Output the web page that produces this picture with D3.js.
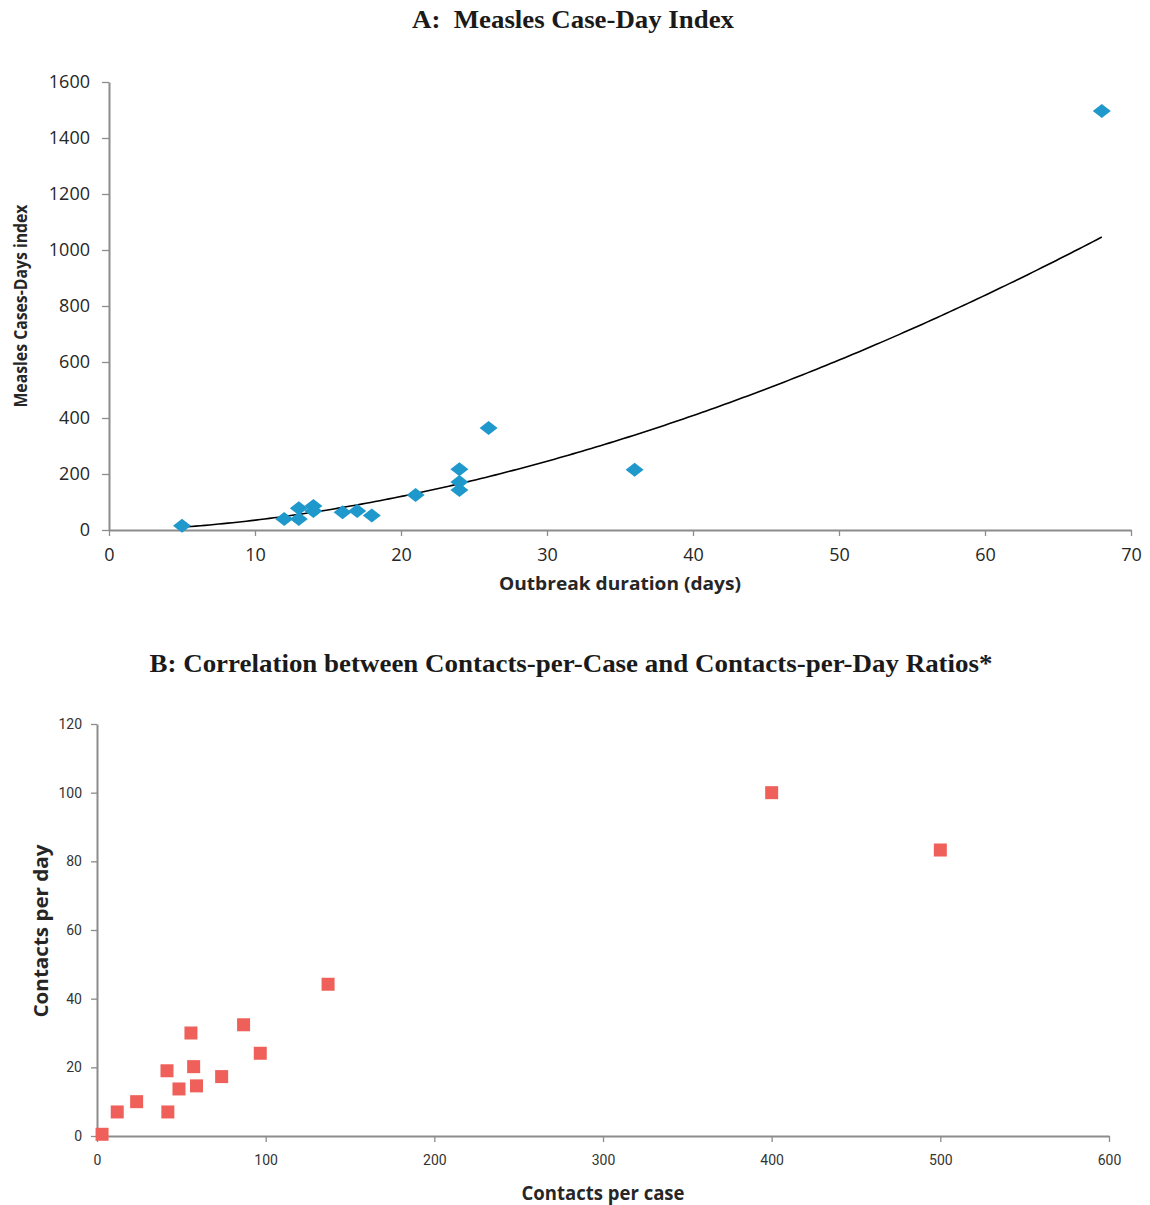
<!DOCTYPE html>
<html>
<head>
<meta charset="utf-8">
<script src="https://cdn.jsdelivr.net/npm/d3@7"></script>
<style>
  html, body { margin: 0; padding: 0; background: #fff; }
  svg { display: block; }
</style>
</head>
<body>
<svg id="chart" width="1150" height="1205"></svg>
<script>
// ---- Panel A data: outbreak duration (days) vs measles case-days index ----
const durationDays = [5, 12, 13, 13, 14, 14, 16, 17, 18, 21, 24, 24, 24, 26, 36, 68];
const caseDayIndex = [15, 39, 78, 39, 86, 68, 63, 68, 52, 125, 217, 171, 143, 364, 215, 1496];
const aXTicks = [0, 10, 20, 30, 40, 50, 60, 70];
const aYTicks = [0, 200, 400, 600, 800, 1000, 1200, 1400, 1600];

// ---- Panel B data: contacts per case vs contacts per day ----
const contactsPerCase = [3, 12, 23.5, 41.5, 42, 48.6, 55.7, 57.3, 59, 73.9, 86.9, 96.8, 137, 400, 500];
const contactsPerDay  = [0.5, 7, 10, 19, 7, 13.7, 30, 20.2, 14.6, 17.3, 32.4, 24.1, 44.2, 100, 83.3];
const bXTicks = [0, 100, 200, 300, 400, 500, 600];
const bYTicks = [0, 20, 40, 60, 80, 100, 120];

const svg = d3.select("#chart");
const axisColor = "#8c8c8c";
const fmt = d3.format("d");

function styleAxis(g) {
  g.select(".domain").attr("stroke", axisColor).attr("stroke-width", 2);
  g.selectAll(".tick line").attr("stroke", axisColor).attr("stroke-width", 1.3);
}

// ================= Panel A =================
const ax = d3.scaleLinear().domain([0, 70]).range([109, 1131]);
const ay = d3.scaleLinear().domain([0, 1600]).range([530, 82]);

svg.append("text")
  .attr("x", 573).attr("y", 28)
  .attr("text-anchor", "middle")
  .attr("font-family", "Liberation Serif, Times New Roman, serif")
  .attr("font-weight", "bold").attr("font-size", 25)
  .attr("textLength", 322).attr("lengthAdjust", "spacingAndGlyphs")
  .attr("fill", "#1a1a1a")
  .text("A:\u00A0 Measles Case-Day Index");

const gAx = svg.append("g").attr("transform", `translate(0,${ay(0)})`)
  .call(d3.axisBottom(ax).tickValues(aXTicks).tickFormat(fmt).tickSize(6).tickSizeOuter(0).tickPadding(12));
styleAxis(gAx);
gAx.selectAll(".tick text").attr("font-family", "Open Sans, sans-serif").attr("font-size", 18).attr("fill", "#262626");

const gAy = svg.append("g").attr("transform", `translate(${ax(0)},0)`)
  .call(d3.axisLeft(ay).tickValues(aYTicks).tickFormat(fmt).tickSize(7).tickSizeOuter(0).tickPadding(12));
styleAxis(gAy);
gAy.selectAll(".tick text").attr("font-family", "Open Sans, sans-serif").attr("font-size", 18).attr("fill", "#262626");

// power trendline fitted (least squares on logs) from the data
const lx = durationDays.map(Math.log), ly = caseDayIndex.map(Math.log);
const mx = d3.mean(lx), my = d3.mean(ly);
const bPow = d3.sum(lx.map((v, i) => (v - mx) * (ly[i] - my))) / d3.sum(lx.map(v => (v - mx) * (v - mx)));
const aPow = Math.exp(my - bPow * mx);
const x0 = d3.min(durationDays), x1 = d3.max(durationDays);
const trendX = d3.range(0, 201).map(i => x0 + (x1 - x0) * i / 200);
svg.append("path")
  .datum(trendX)
  .attr("fill", "none").attr("stroke", "#000").attr("stroke-width", 1.6)
  .attr("d", d3.line().x(d => ax(d)).y(d => ay(aPow * Math.pow(d, bPow))));

const diamond = "M0,-7 L9,0 L0,7 L-9,0 Z";
svg.append("g").selectAll("path")
  .data(durationDays.map((d, i) => [d, caseDayIndex[i]]))
  .join("path")
  .attr("d", diamond)
  .attr("transform", d => `translate(${ax(d[0])},${ay(d[1])})`)
  .attr("fill", "#1f98cc");

svg.append("text")
  .attr("x", 620).attr("y", 590)
  .attr("text-anchor", "middle")
  .attr("font-family", "Open Sans, sans-serif")
  .attr("font-weight", "bold").attr("font-size", 17)
  .attr("textLength", 242).attr("lengthAdjust", "spacingAndGlyphs")
  .attr("fill", "#262626")
  .text("Outbreak duration (days)");

svg.append("text")
  .attr("transform", "translate(27,306) rotate(-90)")
  .attr("text-anchor", "middle")
  .attr("font-family", "Open Sans, sans-serif")
  .attr("font-weight", "bold").attr("font-size", 17)
  .attr("textLength", 203).attr("lengthAdjust", "spacingAndGlyphs")
  .attr("fill", "#262626")
  .text("Measles Cases-Days index");

// ================= Panel B =================
const bx = d3.scaleLinear().domain([0, 600]).range([97, 1109]);
const by = d3.scaleLinear().domain([0, 120]).range([1136, 724]);

svg.append("text")
  .attr("x", 571).attr("y", 672)
  .attr("text-anchor", "middle")
  .attr("font-family", "Liberation Serif, Times New Roman, serif")
  .attr("font-weight", "bold").attr("font-size", 25)
  .attr("textLength", 843).attr("lengthAdjust", "spacingAndGlyphs")
  .attr("fill", "#1a1a1a")
  .text("B: Correlation between Contacts-per-Case and Contacts-per-Day Ratios*");

const gBx = svg.append("g").attr("transform", `translate(0,${by(0)})`)
  .call(d3.axisBottom(bx).tickValues(bXTicks).tickFormat(fmt).tickSize(6).tickSizeOuter(0).tickPadding(13));
styleAxis(gBx);
gBx.selectAll(".tick text").attr("font-family", "Roboto, sans-serif").attr("font-size", 14).attr("fill", "#333");

const gBy = svg.append("g").attr("transform", `translate(${bx(0)},0)`)
  .call(d3.axisLeft(by).tickValues(bYTicks).tickFormat(fmt).tickSize(6).tickSizeOuter(0).tickPadding(9));
styleAxis(gBy);
gBy.selectAll(".tick text").attr("font-family", "Roboto, sans-serif").attr("font-size", 14).attr("fill", "#333");

const sq = 13;
svg.append("g").selectAll("rect")
  .data(contactsPerCase.map((d, i) => [d, contactsPerDay[i]]))
  .join("rect")
  .attr("x", d => bx(d[0]) - sq / 2)
  .attr("y", d => by(d[1]) - sq / 2)
  .attr("width", sq).attr("height", sq)
  .attr("fill", "#f0605a");

svg.append("text")
  .attr("x", 603).attr("y", 1200)
  .attr("text-anchor", "middle")
  .attr("font-family", "Open Sans, sans-serif")
  .attr("font-weight", "bold").attr("font-size", 20)
  .attr("textLength", 163).attr("lengthAdjust", "spacingAndGlyphs")
  .attr("fill", "#262626")
  .text("Contacts per case");

svg.append("text")
  .attr("transform", "translate(48,931) rotate(-90)")
  .attr("text-anchor", "middle")
  .attr("font-family", "Open Sans, sans-serif")
  .attr("font-weight", "bold").attr("font-size", 20)
  .attr("textLength", 173).attr("lengthAdjust", "spacingAndGlyphs")
  .attr("fill", "#262626")
  .text("Contacts per day");
</script>
</body>
</html>
